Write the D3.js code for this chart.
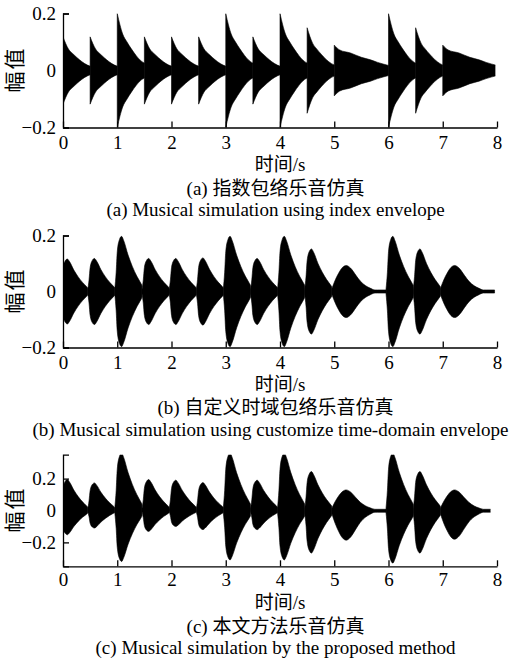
<!DOCTYPE html>
<html>
<head>
<meta charset="utf-8">
<script src="https://cdn.jsdelivr.net/npm/d3@7"></script>
<style>
  html, body { margin: 0; padding: 0; background: #fff; }
  svg { display: block; }
  text { font-family: "Liberation Serif", "Noto Sans CJK SC", serif; fill: #000; }
</style>
</head>
<body>
<svg id="chart" width="510" height="663"></svg>
<script>
// ── Data ──────────────────────────────────────────────
const noteOnsets = [0, 0.5, 1, 1.5, 2, 2.5, 3, 3.5, 4, 4.5, 5, 6, 6.5, 7]
const longNote   = [0, 0, 0, 0, 0, 0, 0, 0, 0, 0, 1, 0, 0, 1]

// peak amplitude of each note (upper / lower lobe)
const peaksA     = [0.118, 0.118, 0.2, 0.118, 0.118, 0.118, 0.2, 0.118, 0.2, 0.15, 0.089, 0.2, 0.15, 0.089]
const peaksB     = [0.116, 0.118, 0.197, 0.118, 0.118, 0.12, 0.197, 0.118, 0.197, 0.152, 0.093, 0.197, 0.152, 0.093]
const peaksCUp   = [0.194, 0.173, 0.36, 0.194, 0.19, 0.175, 0.36, 0.19, 0.36, 0.244, 0.129, 0.36, 0.244, 0.129]
const peaksCDown = [0.152, 0.11, 0.32, 0.131, 0.1, 0.12, 0.31, 0.12, 0.31, 0.267, 0.186, 0.33, 0.267, 0.18]

// envelope key points: offset from onset (s) -> share of the note peak
const decayShortT = [0, 0.05, 0.1, 0.18, 0.26, 0.35, 0.45, 0.5]
const decayShortV = [1, 0.8, 0.64, 0.5, 0.38, 0.26, 0.16, 0.13]
const decayLongT  = [0, 0.1, 0.3, 0.5, 0.67, 0.8, 1.0]
const decayLongV  = [1, 0.81, 0.69, 0.52, 0.42, 0.32, 0.2]
const swellShortT = [-0.045, -0.02, 0, 0.04, 0.08, 0.12, 0.2, 0.28, 0.36, 0.44, 0.455]
const swellShortV = [0.05, 0.35, 0.72, 0.94, 1, 0.92, 0.66, 0.45, 0.28, 0.14, 0.11]
const swellLongT  = [-0.045, -0.01, 0.02, 0.08, 0.15, 0.22, 0.3, 0.4, 0.48, 0.58, 0.66, 0.75, 0.8, 0.955]
const swellLongV  = [0.1, 0.3, 0.45, 0.7, 0.92, 1, 0.9, 0.62, 0.4, 0.22, 0.13, 0.06, 0.06, 0.06]

const signalEnd  = [7.97, 7.98, 7.88]
const xTicks     = [0, 1, 2, 3, 4, 5, 6, 7, 8]
const yTicks     = [-0.2, 0, 0.2]
const yLimits    = [0.2, 0.2, 0.35]
const xTitle     = "时间/s"
const yTitle     = "幅值"
const captionsCN = ["(a) 指数包络乐音仿真", "(b) 自定义时域包络乐音仿真", "(c) 本文方法乐音仿真"]
const captionsEN = [
  "(a) Musical simulation using index envelope",
  "(b) Musical simulation using customize time-domain envelope",
  "(c) Musical simulation by the proposed method"
]

// ── Layout ────────────────────────────────────────────
const svg  = d3.select("#chart")
const W    = 510
const left = 63, right = 497, capX = 275.5
const layout = [
  { top: 13.5,  bottom: 127.5, up: peaksA,   down: peaksA,     swell: false, tickY: 148.5, xtY: 170.5, cnY: 194.5, enY: 215.5 },
  { top: 235.5, bottom: 347.5, up: peaksB,   down: peaksB,     swell: true,  tickY: 368.5, xtY: 391,   cnY: 414,   enY: 436 },
  { top: 454.7, bottom: 566.3, up: peaksCUp, down: peaksCDown, swell: true,  tickY: 586.5, xtY: 609,   cnY: 633,   enY: 654 }
]

const x = d3.scaleLinear().domain([0, 8]).range([left, right])
const defs = svg.append("defs")

layout.forEach((p, pi) => {
  const lim = yLimits[pi]
  const y = d3.scaleLinear().domain([-lim, lim]).range([p.bottom, p.top])
  const g = svg.append("g")

  // clip to the plot box and to where the signal stops
  const clipId = "clip" + pi
  defs.append("clipPath").attr("id", clipId)
    .append("rect")
    .attr("x", x(0)).attr("y", p.top)
    .attr("width", x(signalEnd[pi]) - x(0))
    .attr("height", p.bottom - p.top)

  const area = d3.area()
    .x(d => x(d.t))
    .y0(d => y(-d.down))
    .y1(d => y(d.up))
    .curve(d3.curveMonotoneX)

  const wave = g.append("g").attr("clip-path", `url(#${clipId})`)
  noteOnsets.forEach((on, i) => {
    const isLong = longNote[i] === 1
    const T = p.swell ? (isLong ? swellLongT : swellShortT) : (isLong ? decayLongT : decayShortT)
    const V = p.swell ? (isLong ? swellLongV : swellShortV) : (isLong ? decayLongV : decayShortV)
    const pts = T.map((o, k) => ({ t: on + o, up: p.up[i] * V[k], down: p.down[i] * V[k] }))
    wave.append("path").datum(pts)
      .attr("d", area)
      .attr("fill", "#000")
      .attr("stroke", "#000")
      .attr("stroke-width", 0.6)
  })

  // ── Axes (left + bottom only, ticks inward) ──────────
  const xAxis = d3.axisBottom(x)
    .tickValues(xTicks)
    .tickFormat(d3.format("d"))
    .tickSizeInner(-6).tickSizeOuter(0).tickPadding(8)
  const yAxis = d3.axisLeft(y)
    .tickValues(yTicks)
    .tickFormat(d => d === 0 ? "0" : d3.format(".1f")(d))
    .tickSizeInner(-6).tickSizeOuter(-6).tickPadding(7)

  const gx = g.append("g").attr("transform", `translate(0,${p.bottom})`).call(xAxis)
  const gy = g.append("g").attr("transform", `translate(${left},0)`).call(yAxis)

  ;[gx, gy].forEach(a => {
    a.selectAll("path, line").attr("stroke", "#000").attr("stroke-width", 1.3)
    a.selectAll("text")
      .style("font-family", '"Liberation Serif", serif')
      .style("font-size", "19px")
      .attr("fill", "#000")
  })
  gx.selectAll(".tick text").attr("dy", null).attr("y", p.tickY - p.bottom)

  // ── Titles and captions ──────────────────────────────
  g.append("text")
    .attr("transform", `translate(15,${(p.top + p.bottom) / 2}) rotate(-90)`)
    .attr("text-anchor", "middle")
    .attr("dominant-baseline", "central")
    .style("font-size", "21px")
    .style("letter-spacing", "2px")
    .attr("dx", 1)
    .text(yTitle)

  g.append("text")
    .attr("x", (left + right) / 2).attr("y", p.xtY)
    .attr("text-anchor", "middle")
    .style("font-size", "19px")
    .text(xTitle)

  g.append("text")
    .attr("x", capX).attr("y", p.cnY)
    .attr("text-anchor", "middle")
    .style("font-size", "19px")
    .text(captionsCN[pi])

  const en = g.append("text")
    .attr("x", capX).attr("y", p.enY)
    .attr("text-anchor", "middle")
    .style("font-size", "19px")
    .text(captionsEN[pi])

  // keep the long caption inside the page
  const bb = en.node().getBBox()
  if (bb.x + bb.width > W - 1.5) en.attr("x", capX - (bb.x + bb.width - (W - 1.5)))
})
</script>
</body>
</html>
